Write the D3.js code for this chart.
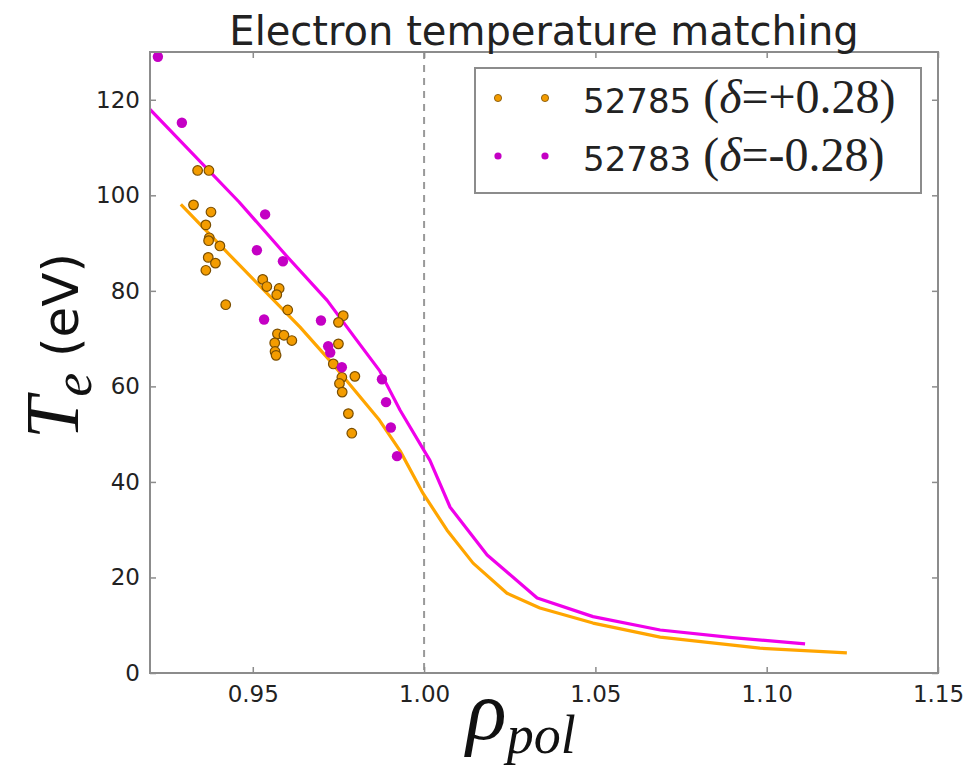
<!DOCTYPE html>
<html><head><meta charset="utf-8">
<script src="https://cdn.jsdelivr.net/npm/d3@7/dist/d3.min.js"></script>
<style>body{margin:0;background:#fff}svg{display:block}</style>
</head><body>
<svg id="c" width="974" height="771"></svg>
<script>
// ---- data ----
const xTicks = [0.95, 1.00, 1.05, 1.10, 1.15];
const yTicks = [0, 20, 40, 60, 80, 100, 120];
const seriesNames = ["52785", "52783"];
const seriesDelta = ["+0.28", "-0.28"];

// measured points 52785 (orange)
const orangeRho = [0.9339,0.9372,0.9327,0.9378,0.9363,0.9373,0.9371,0.9404,0.9370,0.9391,0.9363,0.9421,0.9529,0.9541,0.9577,0.9570,0.9602,0.9572,0.9591,0.9614,0.9564,0.9565,0.9568,0.9764,0.9750,0.9750,0.9735,0.9760,0.9753,0.9798,0.9761,0.9779,0.9789];
const orangeTe  = [105.2,105.2,98.0,96.5,93.8,91.1,90.5,89.4,87.0,85.8,84.3,77.1,82.4,80.9,80.5,79.2,76.0,71.0,70.7,69.6,69.1,67.3,66.5,74.8,73.4,68.9,64.7,61.9,60.6,62.1,58.8,54.3,50.2];
// measured points 52783 (magenta)
const magentaRho = [0.9223,0.9293,0.9536,0.9512,0.9588,0.9533,0.9699,0.9720,0.9726,0.9760,0.9877,0.9889,0.9903,0.9921];
const magentaTe  = [129.0,115.2,96.0,88.5,86.2,74.0,73.8,68.4,67.1,64.0,61.5,56.7,51.4,45.4];

// model curves
const orangeLineRho = [0.929,0.945,0.9638,0.9725,0.987,0.993,0.9997,1.0067,1.0143,1.0242,1.0338,1.0493,1.0689,1.098,1.1234];
const orangeLineTe  = [98.1,86.2,72.4,65.4,52.9,46.5,37.6,29.9,23.0,16.7,13.6,10.45,7.5,5.2,4.2];
const magentaLineRho = [0.920,0.946,0.960,0.9717,0.980,0.987,0.993,1.0017,1.0076,1.0184,1.033,1.0493,1.0689,1.09,1.1112];
const magentaLineTe  = [118,98.6,87.2,78,70,63.3,55,44.5,34.7,24.7,15.7,11.8,9.0,7.4,6.1];

// ---- layout ----
const L = 150, R = 938, T = 52, B = 673;
const svg = d3.select("#c");
const x = d3.scaleLinear().domain([0.92, 1.15]).range([L, R]);
const y = d3.scaleLinear().domain([0, 130]).range([B, T]);
const cOr = "#ffa500", cOrDot = "#f39c00", cOrEdge = "#7a4e00";
const cMg = "#f000ea", cMgDot = "#c400c4";
const frame = "#8c8c8c";

svg.append("clipPath").attr("id","clip").append("rect")
  .attr("x",L).attr("y",T).attr("width",R-L).attr("height",B-T);

// dashed line at separatrix
svg.append("line").attr("x1",x(1.0)).attr("x2",x(1.0)).attr("y1",T).attr("y2",B)
  .attr("stroke","#999").attr("stroke-width",2).attr("stroke-dasharray","7,6");

const g = svg.append("g").attr("clip-path","url(#clip)");
const line = d3.line().x(d=>x(d[0])).y(d=>y(d[1]));
g.append("path").datum(orangeLineRho.map((r,i)=>[r,orangeLineTe[i]]))
  .attr("d",line).attr("fill","none").attr("stroke",cOr).attr("stroke-width",3.2).attr("stroke-linejoin","round");
g.append("path").datum(magentaLineRho.map((r,i)=>[r,magentaLineTe[i]]))
  .attr("d",line).attr("fill","none").attr("stroke",cMg).attr("stroke-width",3.2).attr("stroke-linejoin","round");

g.selectAll(".od").data(orangeRho.map((r,i)=>[r,orangeTe[i]])).enter().append("circle")
  .attr("cx",d=>x(d[0])).attr("cy",d=>y(d[1])).attr("r",4.8)
  .attr("fill",cOrDot).attr("stroke",cOrEdge).attr("stroke-width",1.2);
g.selectAll(".md").data(magentaRho.map((r,i)=>[r,magentaTe[i]])).enter().append("circle")
  .attr("cx",d=>x(d[0])).attr("cy",d=>y(d[1])).attr("r",5.2)
  .attr("fill",cMgDot);

// frame
svg.append("rect").attr("x",L).attr("y",T).attr("width",R-L).attr("height",B-T)
  .attr("fill","none").attr("stroke",frame).attr("stroke-width",2);

// axes with inward ticks
const fontSans = "'DejaVu Sans', sans-serif";
svg.append("g").attr("transform",`translate(0,${B})`)
  .call(d3.axisBottom(x).tickValues(xTicks).tickFormat(d3.format(".2f")).tickSizeInner(-6).tickSizeOuter(0).tickPadding(13));
svg.append("g").attr("transform",`translate(${L},0)`)
  .call(d3.axisLeft(y).tickValues(yTicks).tickFormat(d3.format("d")).tickSizeInner(-6).tickSizeOuter(0).tickPadding(10));
svg.append("g").attr("transform",`translate(0,${T})`)
  .call(d3.axisTop(x).tickValues(xTicks).tickFormat("").tickSizeInner(-6).tickSizeOuter(0));
svg.append("g").attr("transform",`translate(${R},0)`)
  .call(d3.axisRight(y).tickValues(yTicks).tickFormat("").tickSizeInner(-6).tickSizeOuter(0));
svg.selectAll(".domain").remove();
svg.selectAll(".tick line").attr("stroke",frame).attr("stroke-width",1.5);
svg.selectAll(".tick text").attr("font-family",fontSans).attr("font-size",23).attr("fill","#222");

// title
svg.append("text").attr("x",544).attr("y",45).attr("text-anchor","middle")
  .attr("font-family",fontSans).attr("font-size",40).attr("fill","#222")
  .text("Electron temperature matching");

// y label
const yl = svg.append("text").attr("transform","translate(78,346) rotate(-90)")
  .attr("text-anchor","middle").attr("fill","#111");
yl.append("tspan").attr("font-family","'Liberation Serif', serif").attr("font-style","italic").attr("font-size",76).text("T");
yl.append("tspan").attr("font-family","'Liberation Serif', serif").attr("font-style","italic").attr("font-size",54).attr("dy",13).text("e");
yl.append("tspan").attr("font-family",fontSans).attr("font-size",50).attr("dy",-13).text("\u00a0(eV)");

// x label
const xl = svg.append("text").attr("x",521).attr("y",739).attr("text-anchor","middle").attr("fill","#111")
  .attr("font-family","'Liberation Serif', serif").attr("font-style","italic");
xl.append("tspan").attr("font-size",84).text("\u03c1");
xl.append("tspan").attr("font-size",54).attr("dy",14).text("pol");

// legend
const lg = svg.append("g");
lg.append("rect").attr("x",475).attr("y",68).attr("width",446).attr("height",125)
  .attr("fill","#fff").attr("stroke",frame).attr("stroke-width",2);
const legRows = [
  {name: seriesNames[0], delta: seriesDelta[0], fill: cOrDot, edge: cOrEdge, cy: 98},
  {name: seriesNames[1], delta: seriesDelta[1], fill: cMgDot, edge: "none", cy: 156}
];
legRows.forEach(r=>{
  [498,545].forEach(cx=>lg.append("circle").attr("cx",cx).attr("cy",r.cy).attr("r",3.6)
     .attr("fill",r.fill).attr("stroke",r.edge).attr("stroke-width",0.8));
  const t = lg.append("text").attr("x",583).attr("y",r.cy+15).attr("fill","#222");
  t.append("tspan").attr("font-family",fontSans).attr("font-size",34).text(r.name);
  const m = t.append("tspan").attr("dx",12).attr("font-family","'Liberation Serif', serif").attr("font-size",48);
  m.append("tspan").text("(");
  m.append("tspan").attr("font-style","italic").text("\u03b4");
  m.append("tspan").text("=" + r.delta + ")");
});
</script>
</body></html>
